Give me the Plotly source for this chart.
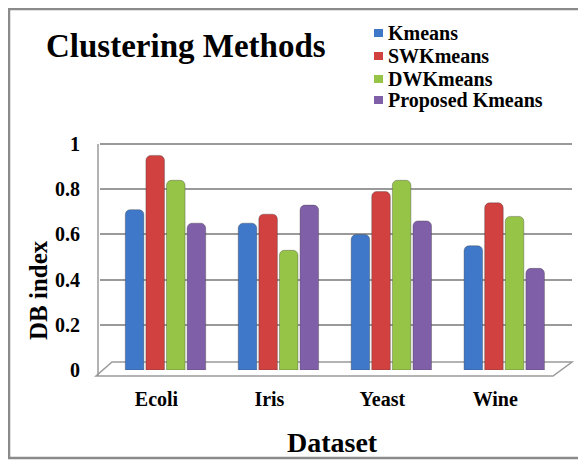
import plotly.graph_objects as go

datasets = ["Ecoli", "Iris", "Yeast", "Wine"]
methods = ["Kmeans", "SWKmeans", "DWKmeans", "Proposed Kmeans"]
kmeans = [0.71, 0.65, 0.60, 0.55]
swkmeans = [0.95, 0.69, 0.79, 0.74]
dwkmeans = [0.84, 0.53, 0.84, 0.68]
proposed = [0.65, 0.73, 0.66, 0.45]
colors = ["#3f78c8", "#d0413f", "#95c447", "#7f5fa8"]

series = [kmeans, swkmeans, dwkmeans, proposed]
W, H = 586, 463
OFF = 8  # page body margin offset (screen -> figure pixels)
# plot area in screen pixels
SX0, SX1, SY0, SY1 = 100, 572, 143, 370
L = SX0 - OFF
R = W - (SX1 - OFF)
T = SY0 - OFF
B = H - (SY1 - OFF)
pw, ph = W - L - R, H - T - B

def px(x):
    return (x - OFF - L) / pw

def py(y):
    return (H - B - (y - OFF)) / ph

# 3D perspective: bars sit slightly right of their category labels
depth_shift = 0.08
xpos = [i + depth_shift for i in range(len(datasets))]

font = "Liberation Serif"
fig = go.Figure()
for name, vals, c in zip(methods, series, colors):
    fig.add_trace(go.Bar(
        name=name, x=xpos, y=vals, showlegend=False,
        marker=dict(color=c, line=dict(color="rgba(60,60,60,0.35)", width=1),
                    cornerradius=5),
    ))

annotations = [
    dict(text="<b>DB index</b>", xref="paper", yref="paper", x=px(38), y=py(290),
         textangle=-90, showarrow=False, font=dict(size=25, family=font),
         xanchor="center", yanchor="middle"),
    dict(text="<b>Dataset</b>", xref="paper", yref="paper", x=px(332), y=py(442),
         showarrow=False, font=dict(size=28, family=font),
         xanchor="center", yanchor="middle"),
]
shapes = []
# legend (series names with colour keys)
legend_rows = [33, 56, 79, 100]
for name, c, ry in zip(methods, colors, legend_rows):
    shapes.append(dict(type="rect", xref="paper", yref="paper",
                       x0=px(374), x1=px(383), y0=py(ry + 4), y1=py(ry - 4),
                       fillcolor=c, line=dict(width=0)))
    annotations.append(dict(text="<b>%s</b>" % name, xref="paper", yref="paper",
                            x=px(386), y=py(ry), xanchor="left", yanchor="middle",
                            showarrow=False, font=dict(size=20, family=font)))

fig.update_layout(
    width=W, height=H,
    margin=dict(l=L, r=R, t=T, b=B),
    paper_bgcolor="white", plot_bgcolor="white",
    barmode="group", bargap=0.27, bargroupgap=0.1,
    showlegend=False,
    font=dict(family=font, color="black"),
    title=dict(text="<b>Clustering Methods</b>", x=(46 - OFF) / W, xanchor="left",
               y=1 - (45 - OFF) / H, yanchor="middle", font=dict(size=33, family=font)),
    xaxis=dict(range=[-0.5, 3.68], showgrid=False, showline=False, ticks="",
               tickfont=dict(size=20, family=font), ticklabelstandoff=15,
               tickvals=list(range(len(datasets))),
               ticktext=["<b>%s</b>" % d for d in datasets]),
    yaxis=dict(range=[0, 1.005], showgrid=True, gridcolor="#9a9a9a",
               gridwidth=1.5, zeroline=False, showline=False,
               tickfont=dict(size=20, family=font), ticklabelstandoff=19,
               tickvals=[0, 0.2, 0.4, 0.6, 0.8, 1.0],
               ticktext=["<b>0</b>", "<b>0.2</b>", "<b>0.4</b>", "<b>0.6</b>", "<b>0.8</b>", "<b>1</b>"]),
    annotations=annotations,
)

# outer frame
shapes.append(dict(type="rect", xref="paper", yref="paper",
                   x0=px(9), x1=px(594), y0=py(458), y1=py(9),
                   line=dict(color="#8a8a8a", width=2.5), layer="below"))
# floor of 3D box
shapes.append(dict(type="path", xref="paper", yref="paper",
                   path="M %f,%f L %f,%f L %f,%f L %f,%f Z" % (
                       px(96), py(376), px(553), py(376), px(572), py(362), px(112), py(362)),
                   line=dict(color="#9a9a9a", width=1.5), layer="below"))
# left wall edge
shapes.append(dict(type="line", xref="paper", yref="paper",
                   x0=px(98), y0=py(376), x1=px(98), y1=py(144),
                   line=dict(color="#9a9a9a", width=1.5), layer="below"))
fig.update_layout(shapes=shapes)

fig.write_html("out.html")
